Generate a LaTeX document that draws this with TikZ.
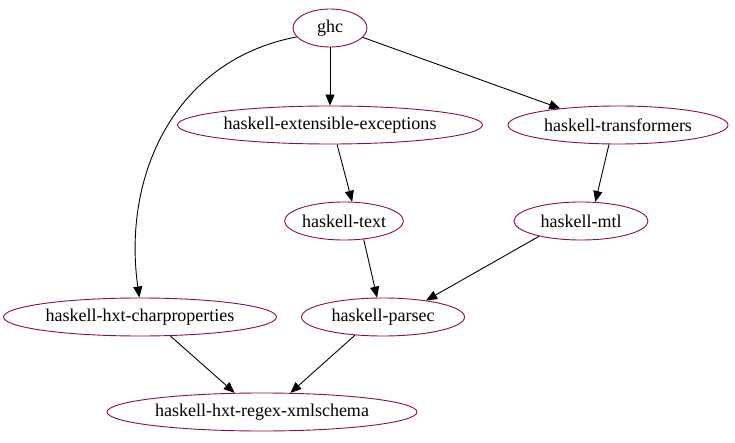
\documentclass[tikz,border=0pt]{standalone}
\usepackage{fontspec}
\setmainfont{Liberation Serif}
\usetikzlibrary{shapes.geometric,arrows.meta}
\definecolor{nodecol}{RGB}{139,10,80}
\begin{document}
\begin{tikzpicture}[x=1pt,y=-1pt,
  pkg/.style={ellipse,draw=nodecol,line width=0.9pt,inner sep=0pt,font=\fontsize{18}{20}\selectfont},
  dep/.style={-{Triangle[length=11pt,width=9pt]},line width=0.9pt,black}]
\useasboundingbox (0,0) rectangle (735,443);
\node[pkg,minimum width=74,minimum height=38] (ghc) at (330,28) {ghc};
\node[pkg,minimum width=305,minimum height=38] (ext) at (330,125) {haskell-extensible-exceptions};
\node[pkg,minimum width=220,minimum height=38] (trans) at (618,125) {haskell-transformers};
\node[pkg,minimum width=112,minimum height=38] (text) at (344,221) {haskell-text};
\node[pkg,minimum width=134,minimum height=38] (mtl) at (581,221) {haskell-mtl};
\node[pkg,minimum width=273,minimum height=38] (char) at (140,317) {haskell-hxt-charproperties};
\node[pkg,minimum width=163,minimum height=38] (parsec) at (383,317) {haskell-parsec};
\node[pkg,minimum width=310,minimum height=38] (regex) at (262,412) {haskell-hxt-regex-xmlschema};
\draw[dep] (ghc.-165) .. controls (175,60) and (122,175) .. (char.92);
\draw[dep] (ghc.south) -- (ext.north);
\draw[dep] (ghc.-16) -- (trans.164);
\draw[dep] (ext.-70) -- (text.67);
\draw[dep] (trans.-115) -- (mtl.53);
\draw[dep] (text.-43) -- (parsec.107);
\draw[dep] (mtl.-160) -- (parsec.21);
\draw[dep] (char.-32) -- (regex.145);
\draw[dep] (parsec.-147) -- (regex.34);
\end{tikzpicture}
\end{document}
